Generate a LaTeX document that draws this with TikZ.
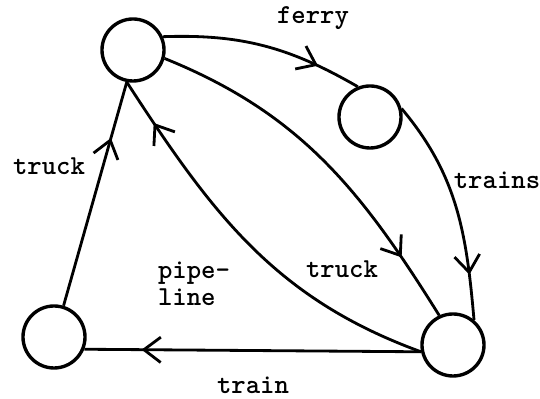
\documentclass[tikz,border=0pt]{standalone}
\usepackage{fontspec}
\setmonofont{Latin Modern Mono Light}
\usetikzlibrary{arrows.meta,decorations.markings}

\begin{document}
\begin{tikzpicture}[x=0.025cm,y=0.025cm,
  place/.style={draw,circle,minimum size=1.55cm,inner sep=0pt,line width=2.4pt},
  link/.style={draw,line width=2pt},
  midarrow/.style={postaction={decorate},decoration={markings,mark=at position #1 with {\arrow{Straight Barb[length=12pt,width=18pt,line width=2pt]}}}},
  lbl/.style={font=\ttfamily\bfseries\fontsize{19.5}{19}\selectfont,inner sep=0pt}
]
  \useasboundingbox (0,0) rectangle (540,399);
  \node[place] (a) at (133,349) {};
  \node[place] (b) at (370,282) {};
  \node[place] (c) at (54,62) {};
  \node[place] (d) at (453,54) {};

  \draw[link,midarrow=0.78] (a.24) to[out=2,in=150] (b.112);
  \draw[link,midarrow=0.8] (b.15) to[out=-50,in=95] (d.50);
  \draw[link,midarrow=0.82] (a.-15) to[out=-22,in=122] (d.115);
  \draw[link,midarrow=0.88] (d.192) to[out=160,in=-57] (a.259);
  \draw[link,midarrow=0.75] (c.73) -- (a.259);
  \draw[link,midarrow=0.83] (d.192) -- (c.-22);

  \node[lbl] (ferrylbl) at (313,381) {ferry};
  \node[lbl] (trainslbl) at (497,219) {trains};
  \node[lbl] (trucklbl) at (342,130) {truck};
  \node[lbl,align=left] (pipelbl) at (194,115) {pipe-\\line};
  \node[lbl] (truckleft) at (49,233) {truck};
  \node[lbl] (trainlbl) at (253,14) {train};
\end{tikzpicture}
\end{document}
